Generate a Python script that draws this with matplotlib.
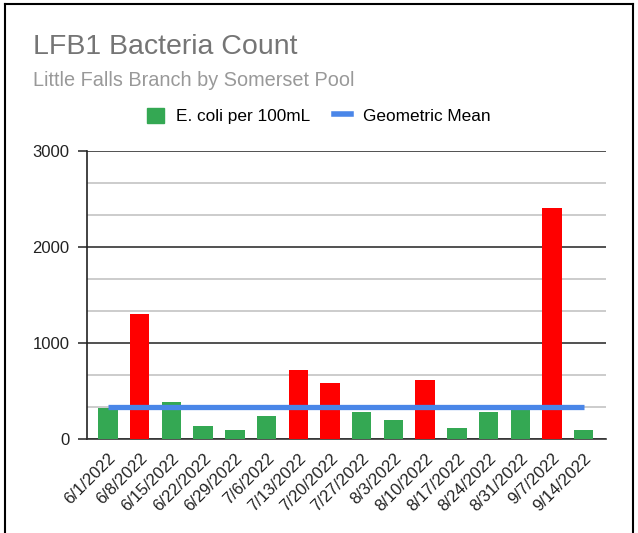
import matplotlib.pyplot as plt
from matplotlib.lines import Line2D
from matplotlib.patches import Patch
from matplotlib.ticker import MultipleLocator

plt.rcParams['font.family'] = ['Liberation Sans', 'DejaVu Sans']

# sample dates and E. coli counts (per 100mL)
dates = ["6/1/2022", "6/8/2022", "6/15/2022", "6/22/2022", "6/29/2022", "7/6/2022",
         "7/13/2022", "7/20/2022", "7/27/2022", "8/3/2022", "8/10/2022", "8/17/2022",
         "8/24/2022", "8/31/2022", "9/7/2022", "9/14/2022"]
ecoli = [320, 1300, 390, 140, 95, 240, 720, 585, 280, 200, 615, 110, 280, 320, 2410, 95]
geo_mean = 330
limit = 410  # bars above this are red

green = "#34a853"
red = "#ff0000"
blue = "#4a86e8"

fig = plt.figure(figsize=(6.38, 5.33), dpi=100)
ax = fig.add_axes([87 / 638, 1 - 439 / 533, (606 - 87) / 638, (439 - 151) / 533])

x = list(range(len(dates)))
colors = [red if v > limit else green for v in ecoli]
ax.bar(x, ecoli, width=0.61, color=colors, zorder=3)
ax.plot([x[0], x[-1]], [geo_mean, geo_mean], color=blue, lw=3.8, zorder=4,
        solid_capstyle="butt")

ax.set_xlim(-0.66, len(dates) - 1 + 0.7)
ax.set_ylim(0, 3000)
ax.yaxis.set_major_locator(MultipleLocator(1000))
ax.yaxis.set_minor_locator(MultipleLocator(1000 / 3))
ax.grid(which="major", axis="y", color="#333333", lw=1.2, zorder=1)
ax.grid(which="minor", axis="y", color="#c4c4c4", lw=1.2, zorder=1)
ax.tick_params(axis="y", which="major", length=6.5, width=1.2, color="#333333",
               labelsize=12, labelcolor="#222222", pad=6)
ax.tick_params(axis="y", which="minor", length=0)
ax.tick_params(axis="x", length=0, pad=8.5)

for s in ["top", "right"]:
    ax.spines[s].set_visible(False)
ax.spines["left"].set_color("#222222")
ax.spines["left"].set_linewidth(1.2)
ax.spines["bottom"].set_color("#333333")
ax.spines["bottom"].set_linewidth(1.2)

ax.set_xticks(x)
ax.set_xticklabels(dates, rotation=45, ha="right", va="top", rotation_mode="anchor",
                   fontsize=12, color="#222222")

# titles
fig.text(33 / 638, 1 - 54 / 533, "LFB1 Bacteria Count", fontsize=20.5, color="#757575",
         va="baseline", ha="left")
fig.text(33 / 638, 1 - 86 / 533, "Little Falls Branch by Somerset Pool", fontsize=14.3,
         color="#999999", va="baseline", ha="left")

handles = [Patch(color=green, label="E. coli per 100mL"),
           Line2D([], [], color=blue, lw=4, label="Geometric Mean")]
fig.legend(handles=handles, loc="center", bbox_to_anchor=(0.5, 1 - 116 / 533), ncol=2,
           frameon=False, fontsize=12.4, handlelength=1.0, handleheight=1.0,
           handletextpad=0.7, columnspacing=1.35)

# frame around the picture
for xs, ys in [([5, 633], [4, 4]), ([633, 633], [4, 533]), ([5, 5], [4, 533])]:
    fig.add_artist(Line2D([v / 638 for v in xs], [1 - v / 533 for v in ys],
                          color="black", lw=1.5))

fig.savefig("out.png", dpi=100)
